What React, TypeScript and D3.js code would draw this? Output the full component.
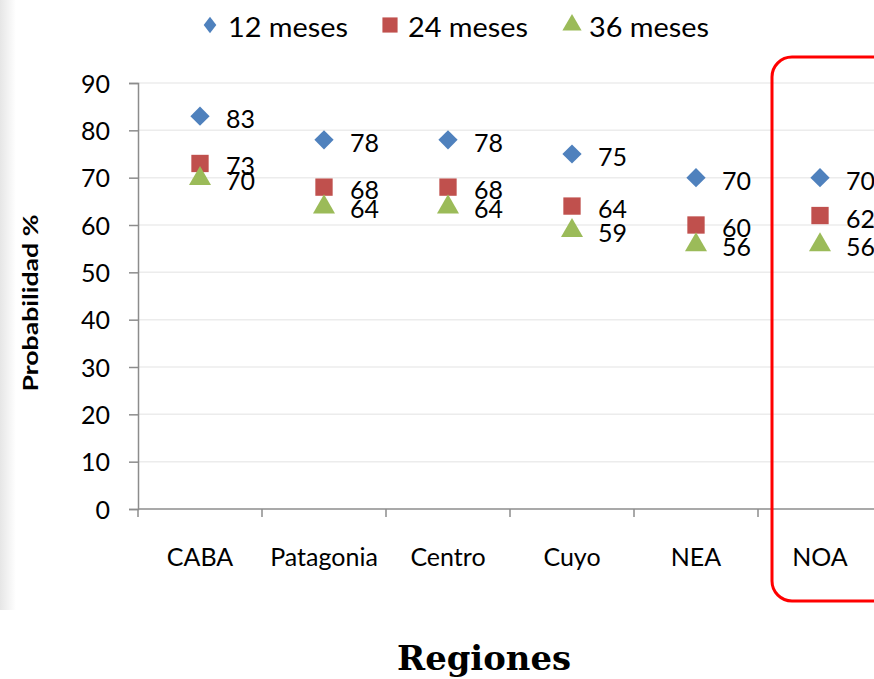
import React, { useEffect, useRef } from "react";
import * as d3 from "d3";

const categories = ["CABA", "Patagonia", "Centro", "Cuyo", "NEA", "NOA"];
const series12 = [83, 78, 78, 75, 70, 70];
const series24 = [73, 68, 68, 64, 60, 62];
const series36 = [70, 64, 64, 59, 56, 56];
const seriesNames = ["12 meses", "24 meses", "36 meses"];
const yTicks = [0, 10, 20, 30, 40, 50, 60, 70, 80, 90];
const colors = ["#4F81BD", "#C0504D", "#9BBB59"];

const W = 874;
const H = 679;
const FONT = "Lato, 'Open Sans', sans-serif";

export default function App() {
  const ref = useRef<SVGSVGElement | null>(null);

  useEffect(() => {
    const svg = d3.select(ref.current);
    svg.selectAll("*").remove();

    const defs = svg.append("defs");
    const grad = defs.append("linearGradient").attr("id", "shade").attr("x1", "0").attr("x2", "1").attr("y1", "0").attr("y2", "0");
    grad.append("stop").attr("offset", "0%").attr("stop-color", "#e6e6e6");
    grad.append("stop").attr("offset", "100%").attr("stop-color", "#ffffff");

    svg.append("rect").attr("width", W).attr("height", H).attr("fill", "#fff");
    svg.append("rect").attr("x", 0).attr("y", 0).attr("width", 16).attr("height", 610).attr("fill", "url(#shade)");

    const x0 = 138, x1 = 882, yTop = 83, yBot = 509;
    const x = d3.scaleBand<string>().domain(categories).range([x0, x1]).paddingInner(0).paddingOuter(0);
    const y = d3.scaleLinear().domain([0, 90]).range([yBot, yTop]);

    // gridlines
    svg.append("g").selectAll("line").data(yTicks.filter(t => t > 0)).join("line")
      .attr("x1", x0).attr("x2", W).attr("y1", d => y(d)).attr("y2", d => y(d))
      .attr("stroke", "#ececec").attr("stroke-width", 1.5);

    // y axis
    const yAxis = svg.append("g").attr("transform", `translate(${x0},0)`)
      .call(d3.axisLeft(y).tickValues(yTicks).tickSize(9).tickPadding(10).tickFormat(d3.format("d")));
    yAxis.select(".domain").attr("stroke", "#8c8c8c").attr("stroke-width", 1.5);
    yAxis.selectAll(".tick line").attr("stroke", "#8c8c8c").attr("stroke-width", 1.5);
    yAxis.selectAll(".tick text").attr("font-family", FONT).attr("font-size", 25).attr("fill", "#000")
      .attr("x", -28).attr("dy", "0.36em");

    // x axis
    const xg = svg.append("g").attr("transform", `translate(0,${yBot})`);
    xg.append("line").attr("x1", x0).attr("x2", x1).attr("y1", 0).attr("y2", 0).attr("stroke", "#8c8c8c").attr("stroke-width", 1.5);
    const boundaries = categories.map(c => x(c) as number).concat([x1]);
    xg.selectAll("line.tk").data(boundaries).join("line").attr("class", "tk")
      .attr("x1", d => d).attr("x2", d => d).attr("y1", 0).attr("y2", 8)
      .attr("stroke", "#8c8c8c").attr("stroke-width", 1.5);
    xg.selectAll("text").data(categories).join("text")
      .attr("x", d => (x(d) as number) + x.bandwidth() / 2).attr("y", 47)
      .attr("text-anchor", "middle").attr("dominant-baseline", "central")
      .attr("font-family", FONT).attr("font-size", 25).attr("fill", "#000").text(d => d);

    const allSeries = [series12, series24, series36];
    const symbols = [d3.symbolSquare, d3.symbolSquare, d3.symbolTriangle];
    const sizes = [185, 300, 210];

    allSeries.forEach((vals, si) => {
      const g = svg.append("g");
      const sym = d3.symbol().type(symbols[si]).size(sizes[si]);
      g.selectAll("path").data(vals).join("path")
        .attr("d", sym as any)
        .attr("transform", (d, i) => {
          const cx = (x(categories[i]) as number) + x.bandwidth() / 2;
          const rot = si === 0 ? "rotate(45)" : "";
          return `translate(${cx},${y(d) + (si === 2 ? 1 : 0)}) ${rot}`;
        })
        .attr("fill", colors[si]);
      g.selectAll("text").data(vals).join("text")
        .attr("x", (d, i) => (x(categories[i]) as number) + x.bandwidth() / 2 + 26)
        .attr("y", d => y(d) + 2)
        .attr("dominant-baseline", "central")
        .attr("font-family", FONT).attr("font-size", 25).attr("fill", "#000")
        .text(d => String(d));
    });

    // legend
    const legendItems = [
      { x: 210, tx: 228 },
      { x: 390, tx: 408 },
      { x: 572, tx: 589 },
    ];
    legendItems.forEach((it, i) => {
      const sym = d3.symbol().type(symbols[i]).size([110, 230, 160][i]);
      svg.append("path").attr("d", sym as any)
        .attr("transform", `translate(${it.x},${25}) ${i === 0 ? "scale(0.85,1.1) rotate(45)" : ""}`)
        .attr("fill", colors[i]);
      svg.append("text").attr("x", it.tx).attr("y", 26).attr("dominant-baseline", "central")
        .attr("font-family", FONT).attr("font-size", 27).attr("fill", "#000")
        .attr("textLength", 120).attr("lengthAdjust", "spacingAndGlyphs")
        .text(seriesNames[i]);
    });

    // y title
    svg.append("text").attr("transform", `translate(29,303) rotate(-90)`)
      .attr("text-anchor", "middle").attr("dominant-baseline", "central")
      .attr("font-family", FONT).attr("font-weight", "bold").attr("font-size", 21).attr("fill", "#000")
      .attr("textLength", 177).attr("lengthAdjust", "spacingAndGlyphs")
      .text("Probabilidad %");

    // x title
    svg.append("text").attr("x", 484).attr("y", 658).attr("text-anchor", "middle").attr("dominant-baseline", "central")
      .attr("font-family", "'DejaVu Serif', 'Liberation Serif', serif").attr("font-weight", "bold").attr("font-size", 33).attr("fill", "#000")
      .attr("textLength", 174).attr("lengthAdjust", "spacingAndGlyphs")
      .text("Regiones");

    // highlight rectangle around NOA
    svg.append("rect").attr("x", 772).attr("y", 57).attr("width", 120).attr("height", 544)
      .attr("rx", 20).attr("ry", 20).attr("fill", "none").attr("stroke", "#ff0000").attr("stroke-width", 3);
  }, []);

  return (
    <svg ref={ref} width={W} height={H} style={{ position: "absolute", left: 0, top: 0, display: "block" }} />
  );
}
